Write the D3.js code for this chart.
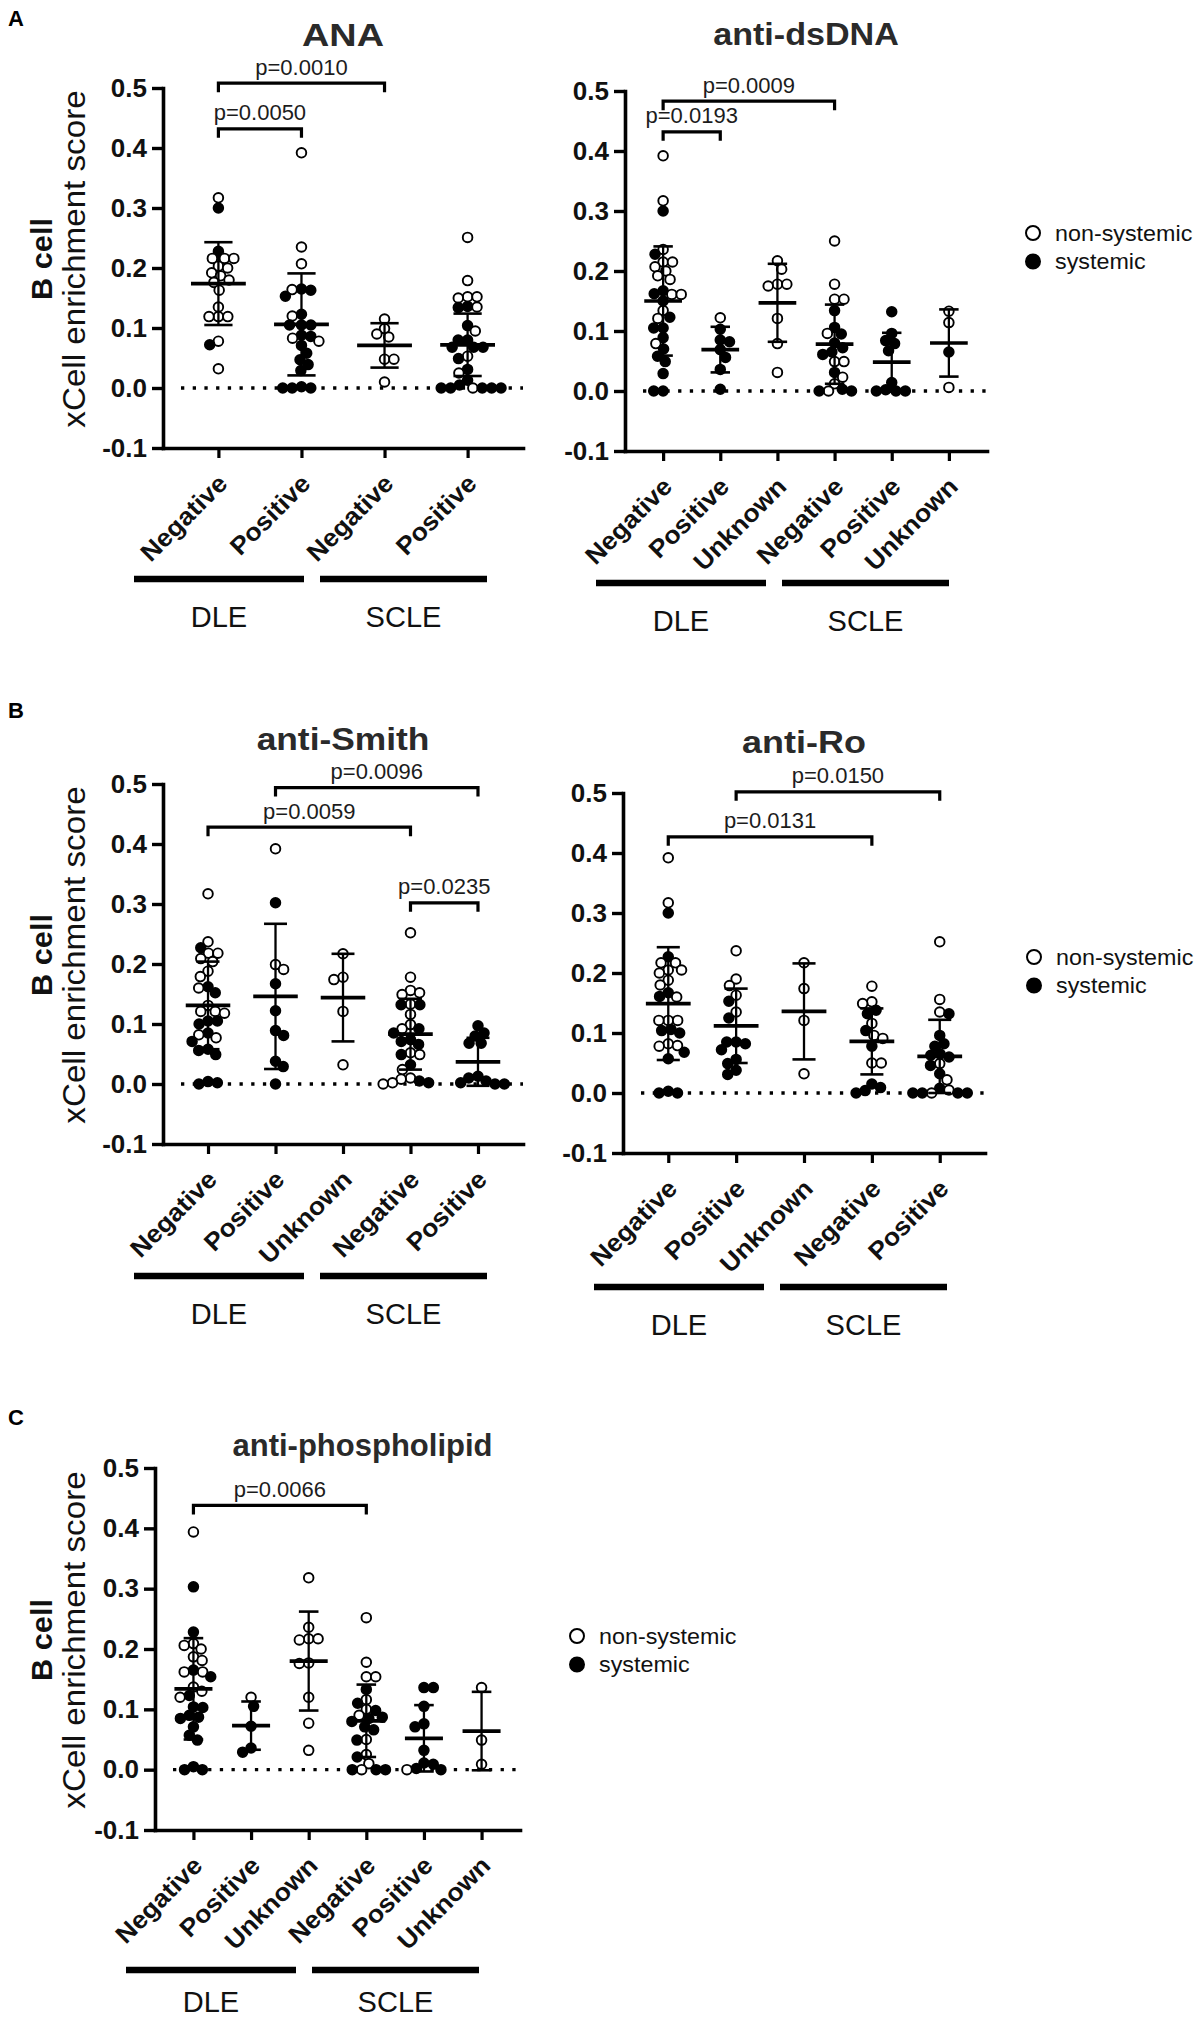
<!DOCTYPE html>
<html><head><meta charset="utf-8">
<script src="https://cdn.jsdelivr.net/npm/d3@7"></script>
<style>
body{margin:0;background:#fff}
svg{display:block}
text{font-family:"Liberation Sans",Arial,Helvetica,sans-serif}
</style>
</head><body>
<svg id="c" width="1204" height="2017"></svg>
<script>
// ---------------- DATA ----------------
const cats4 = ["Negative","Positive","Negative","Positive"];
const cats5 = ["Negative","Positive","Unknown","Negative","Positive"];
const cats6 = ["Negative","Positive","Unknown","Negative","Positive","Unknown"];
const groupNames = ["DLE","SCLE"];
const legendLabels = ["non-systemic","systemic"];
const titles = ["ANA","anti-dsDNA","anti-Smith","anti-Ro","anti-phospholipid"];
const yTicks = [-0.1,0.0,0.1,0.2,0.3,0.4,0.5];

// ANA
const anaOpen = [
 [0.317,0.216,0.216,0.216,0.203,0.200,0.192,0.187,0.180,0.176,0.163,0.135,0.119,0.119,0.119,0.078,0.032],
 [0.392,0.235,0.207,0.164,0.120,0.083,0.078],
 [0.115,0.099,0.090,0.085,0.048,0.048,0.010],
 [0.251,0.179,0.152,0.152,0.150,0.135,0.095,0.053,0.025,0.000]
];
const anaFilled = [
 [0.300,0.228,0.072],
 [0.165,0.163,0.153,0.123,0.105,0.105,0.105,0.088,0.086,0.071,0.058,0.047,0.039,0.029,0.002,0.000,0.000,0.000],
 [],
 [0.136,0.134,0.104,0.080,0.080,0.068,0.068,0.068,0.049,0.031,0.013,0.005,0.000,0.000,0.000,0.000,0.000]
];
const anaMean = [0.174,0.106,0.071,0.072];
const anaSD = [0.069,0.085,0.037,0.052];
const anaBrackets = [[0,2,0.508,"p=0.0010"],[0,1,0.432,"p=0.0050"]];

// anti-dsDNA
const dsOpen = [
 [0.392,0.317,0.236,0.215,0.215,0.207,0.200,0.192,0.186,0.161,0.161,0.134,0.121,0.079],
 [0.122],
 [0.217,0.203,0.178,0.178,0.175,0.121,0.079,0.031],
 [0.250,0.178,0.153,0.153,0.096,0.049,0.049,0.023,0.012,0.000],
 [],
 [0.133,0.114,0.006]
];
const dsFilled = [
 [0.300,0.228,0.167,0.162,0.150,0.123,0.105,0.105,0.089,0.070,0.058,0.049,0.029,0.000,0.000],
 [0.103,0.085,0.082,0.069,0.056,0.036,0.003],
 [],
 [0.134,0.106,0.095,0.080,0.072,0.065,0.061,0.031,0.003,0.000,0.000],
 [0.132,0.096,0.084,0.079,0.067,0.014,0.002,0.000,0.000,0.000],
 [0.065]
];
const dsMean = [0.150,0.069,0.147,0.078,0.048,0.080];
const dsSD = [0.091,0.038,0.065,0.066,0.049,0.056];
const dsBrackets = [[0,3,0.483,"p=0.0009"],[0,1,0.432,"p=0.0193"]];

// anti-Smith
const smOpen = [
 [0.317,0.237,0.218,0.218,0.209,0.204,0.188,0.179,0.160,0.131,0.121,0.121,0.118,0.082,0.077],
 [0.392,0.199,0.191],
 [0.217,0.178,0.174,0.121,0.032],
 [0.252,0.178,0.156,0.152,0.149,0.133,0.116,0.099,0.092,0.052,0.049,0.024,0.010,0.008,0.002,0.000],
 []
];
const smFilled = [
 [0.227,0.162,0.152,0.105,0.105,0.100,0.085,0.071,0.058,0.056,0.049,0.004,0.002,0.000],
 [0.302,0.167,0.122,0.089,0.081,0.038,0.029,0.000],
 [],
 [0.132,0.132,0.092,0.085,0.074,0.071,0.066,0.049,0.032,0.005,0.002],
 [0.097,0.085,0.080,0.068,0.068,0.013,0.010,0.005,0.002,0.000,0.000]
];
const smMean = [0.131,0.146,0.144,0.083,0.037];
const smSD = [0.073,0.121,0.073,0.059,0.040];
const smBrackets = [[1,4,0.494,"p=0.0096"],[0,3,0.428,"p=0.0059"],[3,4,0.302,"p=0.0235"]];

// anti-Ro
const roOpen = [
 [0.392,0.317,0.217,0.217,0.205,0.205,0.200,0.188,0.180,0.160,0.121,0.121,0.121,0.082,0.079,0.078],
 [0.237,0.190,0.179,0.163,0.135],
 [0.217,0.174,0.121,0.032],
 [0.178,0.152,0.149,0.116,0.096,0.091,0.050,0.050],
 [0.252,0.156,0.135,0.049,0.022,0.005,0.000]
];
const roFilled = [
 [0.300,0.227,0.167,0.161,0.106,0.104,0.100,0.068,0.057,0.003,0.000,0.000],
 [0.153,0.125,0.085,0.085,0.082,0.072,0.056,0.049,0.038,0.031],
 [],
 [0.138,0.132,0.104,0.078,0.015,0.009,0.004,0.000],
 [0.132,0.096,0.082,0.078,0.065,0.063,0.060,0.046,0.032,0.008,0.000,0.000,0.000,0.000]
];
const roMean = [0.149,0.112,0.136,0.086,0.061];
const roSD = [0.094,0.062,0.080,0.055,0.061];
const roBrackets = [[1,4,0.502,"p=0.0150"],[0,3,0.427,"p=0.0131"]];

// anti-phospholipid
const apOpen = [
 [0.394,0.209,0.206,0.200,0.187,0.181,0.162,0.162,0.137,0.130,0.120],
 [0.120],
 [0.318,0.236,0.217,0.217,0.215,0.177,0.176,0.120,0.077,0.032],
 [0.252,0.178,0.154,0.154,0.116,0.100,0.090,0.050,0.025,0.010,0.000],
 [0.000],
 [0.136,0.049,0.009]
];
const apFilled = [
 [0.303,0.228,0.165,0.154,0.123,0.104,0.103,0.090,0.087,0.085,0.071,0.057,0.049,0.005,0.000,0.000],
 [0.105,0.072,0.036,0.029],
 [],
 [0.133,0.110,0.098,0.087,0.085,0.080,0.071,0.066,0.049,0.021,0.000,0.000,0.000],
 [0.136,0.136,0.105,0.076,0.071,0.032,0.011,0.009,0.002,0.000],
 []
];
const apMean = [0.134,0.073,0.180,0.081,0.052,0.064];
const apSD = [0.084,0.040,0.082,0.060,0.055,0.065];
const apBrackets = [[0,3,0.438,"p=0.0066"]];

// ---------------- DRAWING ----------------
const svg = d3.select("#c");
const INK = "#111";
const R = 4.8, SW = 1.9, GAP = 9.4;

function swarm(pts, y, d) {
  const arr = pts.map(p => ({...p, y: y(p.v)})).sort((a,b)=>a.y-b.y);
  const placed = [];
  let flip = 1;
  for (const p of arr) {
    const near = placed.filter(q => Math.abs(q.y - p.y) < d);
    const cands = [0];
    near.forEach(q => { const h = Math.sqrt(d*d - (q.y-p.y)*(q.y-p.y)); cands.push(q.dx + h, q.dx - h); });
    const ok = cands.filter(c => near.every(q => (q.dx-c)*(q.dx-c) + (q.y-p.y)*(q.y-p.y) >= d*d - 0.01));
    ok.sort((a,b)=> (Math.abs(a)-Math.abs(b)) || (a-b)*flip);
    p.dx = ok[0];
    flip = -flip;
    placed.push(p);
  }
  return placed;
}

function stretchText(sel, x, y, s, rot) {
  sel.attr("x",0).attr("y",0)
     .attr("transform", `translate(${x},${y})` + (rot ? ` rotate(${rot})` : "") + ` scale(${s},1)`);
}

function panel(cfg) {
  const g = svg.append("g");
  const {x0,W,yTop,yBot,cats,open,filled,mean,sd,brackets} = cfg;
  const y = d3.scaleLinear().domain([-0.1,0.5]).range([yBot,yTop]);
  const x = d3.scalePoint().domain(d3.range(cats.length)).range([x0,x0+W]).padding(0.667);
  const step = x.step();

  // dotted zero line
  g.append("line").attr("x1",x0+18).attr("x2",x0+W).attr("y1",y(0)).attr("y2",y(0))
    .attr("stroke","#000").attr("stroke-width",3.3).attr("stroke-dasharray","3.3 8.4");

  // points
  cats.forEach((c,i)=>{
    const pts = open[i].map(v=>({v,f:false})).concat(filled[i].map(v=>({v,f:true})));
    const sw = swarm(pts, y, GAP);
    g.append("g").selectAll("circle").data(sw).join("circle")
      .attr("cx",d=>x(i)+d.dx).attr("cy",d=>d.y).attr("r",R)
      .attr("fill",d=>d.f?"#000":"#fff").attr("stroke","#000").attr("stroke-width",SW);
  });

  // mean +/- SD
  const eb = g.append("g").attr("stroke","#000").attr("fill","none");
  cats.forEach((c,i)=>{
    const cx = x(i), m = mean[i], s = sd[i];
    eb.append("line").attr("x1",cx).attr("x2",cx).attr("y1",y(m-s)).attr("y2",y(m+s)).attr("stroke-width",2.3);
    [m-s,m+s].forEach(v=>eb.append("line").attr("x1",cx-step*0.17).attr("x2",cx+step*0.17)
      .attr("y1",y(v)).attr("y2",y(v)).attr("stroke-width",2.6));
    eb.append("line").attr("x1",cx-step*0.33).attr("x2",cx+step*0.33)
      .attr("y1",y(m)).attr("y2",y(m)).attr("stroke-width",3.7);
  });

  // axes
  const ya = d3.axisLeft(y).tickValues(yTicks).tickSize(11).tickSizeOuter(0).tickPadding(5)
    .tickFormat(d=>d.toFixed(1));
  const yg = g.append("g").attr("transform",`translate(${x0},0)`).call(ya);
  yg.select(".domain").attr("stroke","#000").attr("stroke-width",3.6).attr("stroke-linecap","square");
  yg.selectAll(".tick line").attr("stroke","#000").attr("stroke-width",3.4);
  yg.selectAll(".tick text").attr("font-size",26).attr("font-weight","bold").attr("fill",INK)
    .attr("font-family","Liberation Sans, Arial, sans-serif");

  const xa = d3.axisBottom(x).tickSize(10).tickSizeOuter(0).tickFormat(i=>cats[i]);
  const xg = g.append("g").attr("transform",`translate(0,${yBot})`).call(xa);
  xg.select(".domain").attr("stroke","#000").attr("stroke-width",3.6).attr("stroke-linecap","square");
  xg.selectAll(".tick line").attr("stroke","#000").attr("stroke-width",3.2);
  xg.selectAll(".tick text").attr("font-size",25).attr("font-weight","bold").attr("fill",INK)
    .attr("font-family","Liberation Sans, Arial, sans-serif")
    .attr("text-anchor","end").attr("dy",0).attr("x",0).attr("y",0)
    .attr("transform","translate(10,37) rotate(-45) scale(1.06,1)");

  // group bars
  const barY = yBot + cfg.barOff;
  const bars = [[x0-29, x0+141],[x0+157, x0+324]];
  bars.forEach((b,k)=>{
    g.append("line").attr("x1",b[0]).attr("x2",b[1]).attr("y1",barY).attr("y2",barY)
      .attr("stroke","#000").attr("stroke-width",6.5);
    g.append("text").attr("x",(b[0]+b[1])/2).attr("y",barY+(cfg.labOff||48)).attr("text-anchor","middle")
      .attr("font-size",29).attr("fill",INK).text(groupNames[k]);
  });

  // brackets
  brackets.forEach(b=>{
    const xa_ = x(b[0]), xb_ = x(b[1]), yy = y(b[2]);
    g.append("path").attr("d",`M${xa_},${yy+9}V${yy}H${xb_}V${yy+9}`)
      .attr("fill","none").attr("stroke","#000").attr("stroke-width",3.2);
    g.append("text").attr("x",(xa_+xb_)/2).attr("y",yy-8.5).attr("text-anchor","middle")
      .attr("font-size",22).attr("fill","#1c1c1c").text(b[3]);
  });

  // title
  const tt = g.append("text").attr("text-anchor","middle").attr("font-size",31).attr("font-weight","bold")
    .attr("fill","#2a2a2a").text(cfg.title);
  stretchText(tt, x0+W/2+(cfg.titleDx||0), cfg.titleY, cfg.titleS||1.17, 0);

  // y label
  if (cfg.ylabel) {
    const cy = (yTop+yBot)/2 - 9;
    const t1 = g.append("text").attr("text-anchor","middle").attr("font-size",29).attr("font-weight","bold")
      .attr("fill",INK).text("B cell");
    stretchText(t1, 52, cy, 1.06, -90);
    const t2 = g.append("text").attr("text-anchor","middle").attr("font-size",31)
      .attr("fill",INK).text("xCell enrichment score");
    stretchText(t2, 85, cy, 1.07, -90);
  }

  // panel letter
  if (cfg.letter) {
    g.append("text").attr("x",8).attr("y",cfg.letterY).attr("font-size",22).attr("font-weight","bold")
      .attr("fill","#000").text(cfg.letter);
  }

  // legend
  if (cfg.legend) {
    const [lx,ly] = cfg.legend;
    [0,1].forEach(k=>{
      const cy = ly + k*28.5;
      g.append("circle").attr("cx",lx).attr("cy",cy).attr("r",7)
        .attr("fill",k?"#000":"#fff").attr("stroke","#000").attr("stroke-width",2);
      const t = g.append("text").attr("font-size",22).attr("fill",INK).text(legendLabels[k]);
      stretchText(t, lx+22, cy+7.5, 1.06, 0);
    });
  }
}

panel({x0:163,W:360,yTop:88,yBot:448,cats:cats4,open:anaOpen,filled:anaFilled,mean:anaMean,sd:anaSD,
  brackets:anaBrackets,title:titles[0],titleY:46,barOff:131,ylabel:true,letter:"A",letterY:26,titleS:1.22});
panel({x0:625,W:362,yTop:91,yBot:451,cats:cats6,open:dsOpen,filled:dsFilled,mean:dsMean,sd:dsSD,
  brackets:dsBrackets,title:titles[1],titleY:45,barOff:132,legend:[1033,233],titleS:1.1});
panel({x0:163,W:360,yTop:784,yBot:1144,cats:cats5,open:smOpen,filled:smFilled,mean:smMean,sd:smSD,
  brackets:smBrackets,title:titles[2],titleY:750,barOff:132,ylabel:true,letter:"B",letterY:718,titleS:1.14});
panel({x0:623,W:362,yTop:793,yBot:1153,cats:cats5,open:roOpen,filled:roFilled,mean:roMean,sd:roSD,
  brackets:roBrackets,title:titles[3],titleY:753,barOff:134,legend:[1034,957],titleS:1.16});
panel({x0:155,W:365,yTop:1468,yBot:1830,cats:cats6,open:apOpen,filled:apFilled,mean:apMean,sd:apSD,
  brackets:apBrackets,title:titles[4],titleY:1456,titleDx:25,titleS:1.0,barOff:140,labOff:42,ylabel:true,
  letter:"C",letterY:1425,legend:[577,1636]});
</script>
</body></html>
